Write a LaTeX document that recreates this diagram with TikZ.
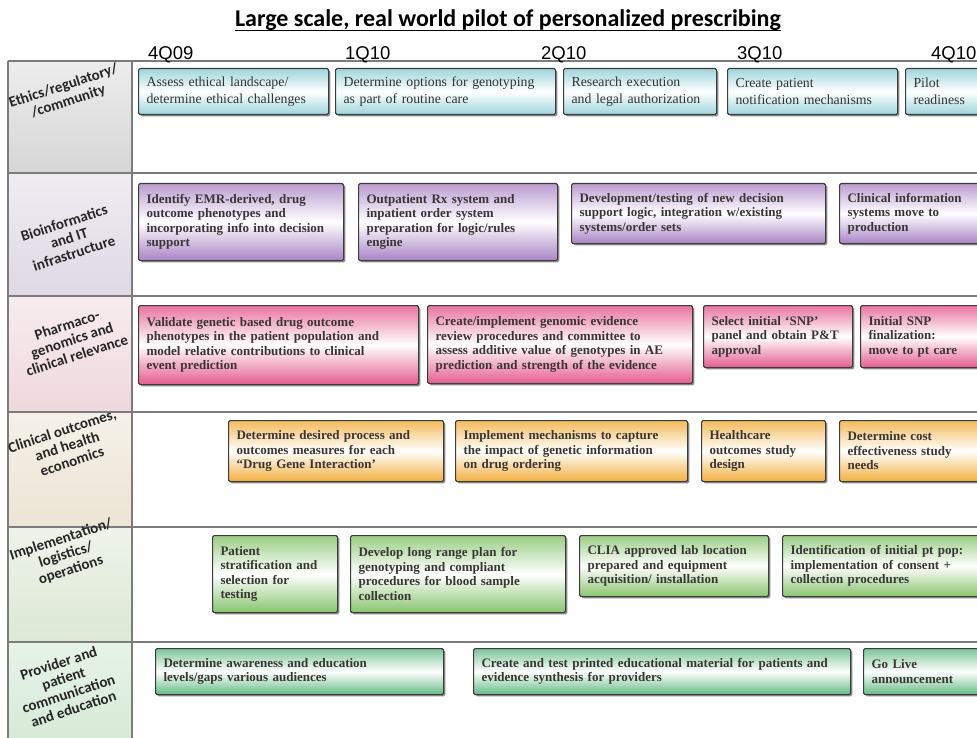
\documentclass[tikz,border=0pt]{standalone}
\usepackage{fontspec}
\setmainfont{Liberation Serif}
\newfontfamily\titulofont{Carlito}
\newfontfamily\trimfont{Liberation Sans}
\usetikzlibrary{shadows}
\hyphenpenalty=10000
\exhyphenpenalty=10000

\definecolor{cian}{HTML}{9ED5DC}
\definecolor{morado}{HTML}{A983C5}
\definecolor{rosa}{HTML}{E45C8C}
\definecolor{naranja}{HTML}{F2AF3E}
\definecolor{verde}{HTML}{88C56E}
\definecolor{verdeazul}{HTML}{64BA84}
\definecolor{celgris}{HTML}{D6D6D6}
\definecolor{celmorado}{HTML}{DED9E4}
\definecolor{celrosa}{HTML}{EFD8DE}
\definecolor{celbeige}{HTML}{ECE4D3}
\definecolor{celverde}{HTML}{DDE8D5}
\definecolor{celverde2}{HTML}{D6EBD7}
\definecolor{bordec}{HTML}{3C3C3C}
\definecolor{textoc}{HTML}{3A3636}
\definecolor{rejillac}{HTML}{7C7C7C}

\tikzset{
  titulo/.style={font=\titulofont\bfseries\fontsize{24}{26}\selectfont, inner sep=0pt, anchor=base},
  trimestre/.style={font=\trimfont\fontsize{18.5}{20}\selectfont, inner sep=0pt, anchor=base west},
  area/.style={font=\titulofont\bfseries\fontsize{15}{16}\selectfont, align=center, rotate=18, text=black!85},
  rejilla/.style={draw=rejillac, line width=1.6pt},
  caja/.style={draw=bordec, line width=1.1pt, rounded corners=1.5pt, anchor=north west,
    align=left, inner xsep=8pt, inner ysep=2pt, text=textoc,
    font=\bfseries\fontsize{13}{14.5}\selectfont,
    drop shadow={shadow xshift=1.8pt, shadow yshift=-1.8pt, fill=black, opacity=0.45}},
  dim/.style n args={3}{minimum width=#1pt, minimum height=#2pt, text width=#3pt},
  etica/.style={caja, top color=cian, bottom color=cian, middle color=white,
    font=\mdseries\fontsize{13.8}{17}\selectfont, text=black!80},
  bioinf/.style={caja, top color=morado!80, bottom color=morado, middle color=white},
  farma/.style={caja, top color=rosa!85, bottom color=rosa, middle color=white},
  clinica/.style={caja, top color=naranja!85, bottom color=naranja, middle color=white},
  implem/.style={caja, top color=verde!85, bottom color=verde, middle color=white},
  proveed/.style={caja, top color=verdeazul!85, bottom color=verdeazul, middle color=white}
}

\begin{document}
\begin{tikzpicture}[x=1pt, y=-1pt]
  \useasboundingbox (0,0) rectangle (977,738);
  \clip (0,0) rectangle (977,738);

  % Título
  \node[titulo] (tit) at (508,27) {Large scale, real world pilot of personalized prescribing};
  \draw[line width=1.4pt] ([yshift=-3.5pt]tit.base west) -- ([yshift=-3.5pt]tit.base east);

  % Fondos de la columna de áreas
  \shade[top color=celgris!45, bottom color=celgris] (8,61) rectangle (132,173);
  \shade[top color=celmorado!50, bottom color=celmorado] (8,173) rectangle (132,296);
  \shade[top color=celrosa!50, bottom color=celrosa] (8,296) rectangle (132,412);
  \shade[top color=celbeige!50, bottom color=celbeige] (8,412) rectangle (132,527);
  \shade[top color=celverde!50, bottom color=celverde] (8,527) rectangle (132,642);
  \shade[top color=celverde2!60, bottom color=celverde2] (8,642) rectangle (132,738);

  % Rejilla
  \foreach \y in {61,173,296,412,527,642}
    \draw[rejilla] (8,\y) -- (977,\y);
  \draw[rejilla] (8,61) -- (8,738);
  \draw[rejilla] (132,61) -- (132,738);

  % Trimestres
  \foreach \x/\t [count=\i] in {148/4Q09, 345/1Q10, 541/2Q10, 737/3Q10, 931/4Q10}
    \node[trimestre] (q\i) at (\x,59.5) {\t};

  % Áreas
  \node[area] (a1) at (66,94) {Ethics/regulatory/\\/community};
  \node[area] (a2) at (69,238) {Bioinformatics\\and IT\\infrastructure};
  \node[area] (a3) at (72,340) {Pharmaco-\\genomics and\\clinical relevance};
  \node[area] (a4) at (67,446) {Clinical outcomes,\\and health\\economics};
  \node[area] (a5) at (66,555) {Implementation/\\logistics/\\operations};
  \node[area] (a6) at (66,686) {Provider and\\patient\\communication\\and education};

  % Ética / regulación
  \node[etica, dim={190}{46}{174}] (e1) at (138,68) {Assess ethical landscape/\\determine ethical challenges};
  \node[etica, dim={220}{46}{204}] (e2) at (335,68) {Determine options for genotyping\\as part of routine care};
  \node[etica, dim={153}{46}{137}] (e3) at (563,68) {Research execution\\and legal authorization};
  \node[etica, dim={170}{46}{154}] (e4) at (727,68) {Create patient\\notification mechanisms};
  \node[etica, dim={110}{46}{94}] (e5) at (905,68) {Pilot\\readiness};

  % Bioinformática
  \node[bioinf, dim={205}{77}{189}] (b1) at (138,183) {Identify EMR-derived, drug\\outcome phenotypes and\\incorporating info into decision\\support};
  \node[bioinf, dim={199}{77}{183}] (b2) at (358,183) {Outpatient Rx system and\\inpatient order system\\preparation for logic/rules\\engine};
  \node[bioinf, dim={254}{60}{238}] (b3) at (571,183) {Development/testing of new decision\\support logic, integration w/existing\\systems/order sets};
  \node[bioinf, dim={170}{60}{154}] (b4) at (839,183) {Clinical information\\systems move to\\production};

  % Farmacogenómica
  \node[farma, dim={280}{79}{264}] (f1) at (138,305) {Validate genetic based drug outcome\\phenotypes in the patient population and\\model relative contributions to clinical\\event prediction};
  \node[farma, dim={265}{78}{249}] (f2) at (427,305) {Create/implement genomic evidence\\review procedures and committee to\\assess additive value of genotypes in AE\\prediction and strength of the evidence};
  \node[farma, dim={149}{62}{133}] (f3) at (703,305) {Select initial `SNP'\\panel and obtain P\&T\\approval};
  \node[farma, dim={150}{62}{134}] (f4) at (860,305) {Initial SNP\\finalization:\\move to pt care};

  % Resultados clínicos
  \node[clinica, dim={215}{61}{199}] (c1) at (228,420) {Determine desired process and\\outcomes measures for each\\``Drug Gene Interaction'};
  \node[clinica, dim={232}{61}{216}] (c2) at (455,420) {Implement mechanisms to capture\\the impact of genetic information\\on drug ordering};
  \node[clinica, dim={124}{61}{108}] (c3) at (701,420) {Healthcare\\outcomes study\\design};
  \node[clinica, dim={170}{61}{154}] (c4) at (839,420) {Determine cost\\effectiveness study\\needs};

  % Implementación
  \node[implem, dim={125}{77}{109}] (i1) at (212,535) {Patient\\stratification and\\selection for\\testing};
  \node[implem, dim={215}{77}{199}] (i2) at (350,535) {Develop long range plan for\\genotyping and compliant\\procedures for blood sample\\collection};
  \node[implem, dim={189}{61}{173}] (i3) at (579,535) {CLIA approved lab location\\prepared and equipment\\acquisition/ installation};
  \node[implem, dim={230}{61}{214}] (i4) at (782,535) {Identification of initial pt pop:\\implementation of consent +\\collection procedures};

  % Comunicación
  \node[proveed, dim={288}{46}{272}] (p1) at (155,648) {Determine awareness and education\\levels/gaps various audiences};
  \node[proveed, dim={377}{46}{361}] (p2) at (473,648) {Create and test printed educational material for patients and\\evidence synthesis for providers};
  \node[proveed, dim={150}{46}{134}] (p3) at (863,648) {Go Live\\announcement};
\end{tikzpicture}
\end{document}
